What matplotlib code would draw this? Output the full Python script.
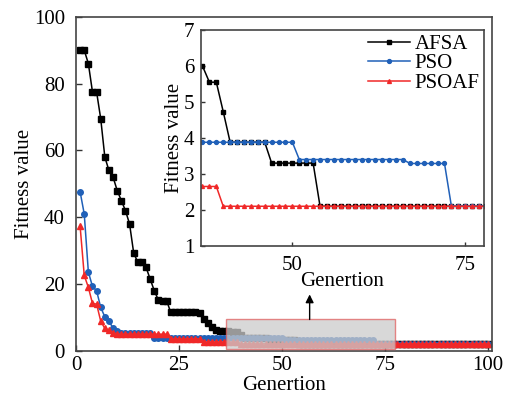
import numpy as np
import matplotlib
matplotlib.use("Agg")
import matplotlib.pyplot as plt
from matplotlib.patches import Rectangle

plt.rcParams['font.family'] = ['Liberation Serif', 'DejaVu Serif']
plt.rcParams['font.size'] = 15
plt.rcParams['mathtext.fontset'] = 'stix'

gen = np.arange(1, 101)

# fitness values, one per generation
afsa_head = [90, 90, 86, 77.5, 77.5, 69.5, 58, 54, 52, 48,
             45, 42, 38, 29.3, 26.5, 26.5, 25, 21.5, 18, 15.2,
             15, 15, 11.5, 11.5, 11.5, 11.5, 11.5, 11.5, 11.5, 11.3,
             9.5, 8.4, 7.2, 6.2, 6.0, 6.0, 6.0, 5.55, 5.55, 4.73,
             3.88, 3.88, 3.88, 3.88, 3.88, 3.88, 3.3, 3.3, 3.3, 3.3,
             3.3, 3.3, 3.3]
afsa = afsa_head + [2.1] * (100 - len(afsa_head))

pso_head = [47.6, 41, 23.6, 19.3, 18, 13, 10.2, 9.0, 6.7, 6.0,
            5.4, 5.4, 5.4, 5.4, 5.4, 5.4, 5.4, 5.4]
pso = pso_head + [3.88] * 32 + [3.4] * 16 + [3.29] * 6
pso = pso + [2.1] * (100 - len(pso))

psoaf_head = [37.3, 22.6, 19, 14.2, 14, 8.9, 6.7, 6.2, 5.5]
psoaf = psoaf_head + [5.0] * 13 + [3.6] * 8 + [2.65] * 9
psoaf = psoaf + [2.1] * (100 - len(psoaf))

labels = ['AFSA', 'PSO', 'PSOAF']
colors = ['black', '#2060b8', '#f02828']
markers = ['s', 'o', '^']
series = [afsa, pso, psoaf]

fig = plt.figure(figsize=(5.17, 4.01), dpi=100)
ax = fig.add_axes([0.147, 0.125, 0.805, 0.833])

for y, lab, c, m in zip(series, labels, colors, markers):
    ax.plot(gen, y, color=c, marker=m, markersize=4, linewidth=1.1, label=lab)

ax.set_xlim(0, 101)
ax.set_ylim(0, 100)
ax.set_xticks([0, 25, 50, 75, 100])
ax.set_yticks([0, 20, 40, 60, 80, 100])
ax.tick_params(direction='in', length=4, width=1, colors='#333333', labelcolor='black')
ax.tick_params(axis='x', pad=4)
ax.tick_params(axis='y', pad=8)
for s in ax.spines.values():
    s.set_color('#444444')
    s.set_linewidth(1.2)
ax.set_xlabel('Genertion', labelpad=0.5)
ax.set_ylabel('Fitness value', labelpad=0)

# zoomed region marker
ax.add_patch(Rectangle((36.5, 0.5), 40.9, 8.9, facecolor='#cccccc', alpha=0.75,
                       edgecolor='#e06060', linewidth=1.0, zorder=5))
ax.annotate('', xy=(56.7, 16.9), xytext=(56.7, 9.4),
            arrowprops=dict(arrowstyle='-|>', color='black', lw=1.0,
                            mutation_scale=12, shrinkA=0, shrinkB=0), zorder=6)

ins = fig.add_axes([0.389, 0.387, 0.547, 0.538])
for y, lab, c, m in zip(series, labels, colors, markers):
    ins.plot(gen, y, color=c, marker=m, markersize=2.8, linewidth=1.1, label=lab)
ins.set_xlim(36.8, 77.7)
ins.set_ylim(1, 7)
ins.set_xticks([50, 75])
ins.set_yticks([1, 2, 3, 4, 5, 6, 7])
ins.tick_params(direction='in', length=3, width=1, colors='#333333', labelcolor='black')
ins.tick_params(axis='x', pad=7)
ins.tick_params(axis='y', pad=5)
for s in ins.spines.values():
    s.set_color('#444444')
    s.set_linewidth(1.2)
ins.set_xlabel('Genertion', labelpad=-2)
ins.set_ylabel('Fitness value', labelpad=0)
ins.legend(loc='upper right', frameon=False, handlelength=2.0, handletextpad=0.25,
           labelspacing=0.0, borderaxespad=0.0, borderpad=0.2, fontsize=15)

fig.savefig('out.png', dpi=100)
